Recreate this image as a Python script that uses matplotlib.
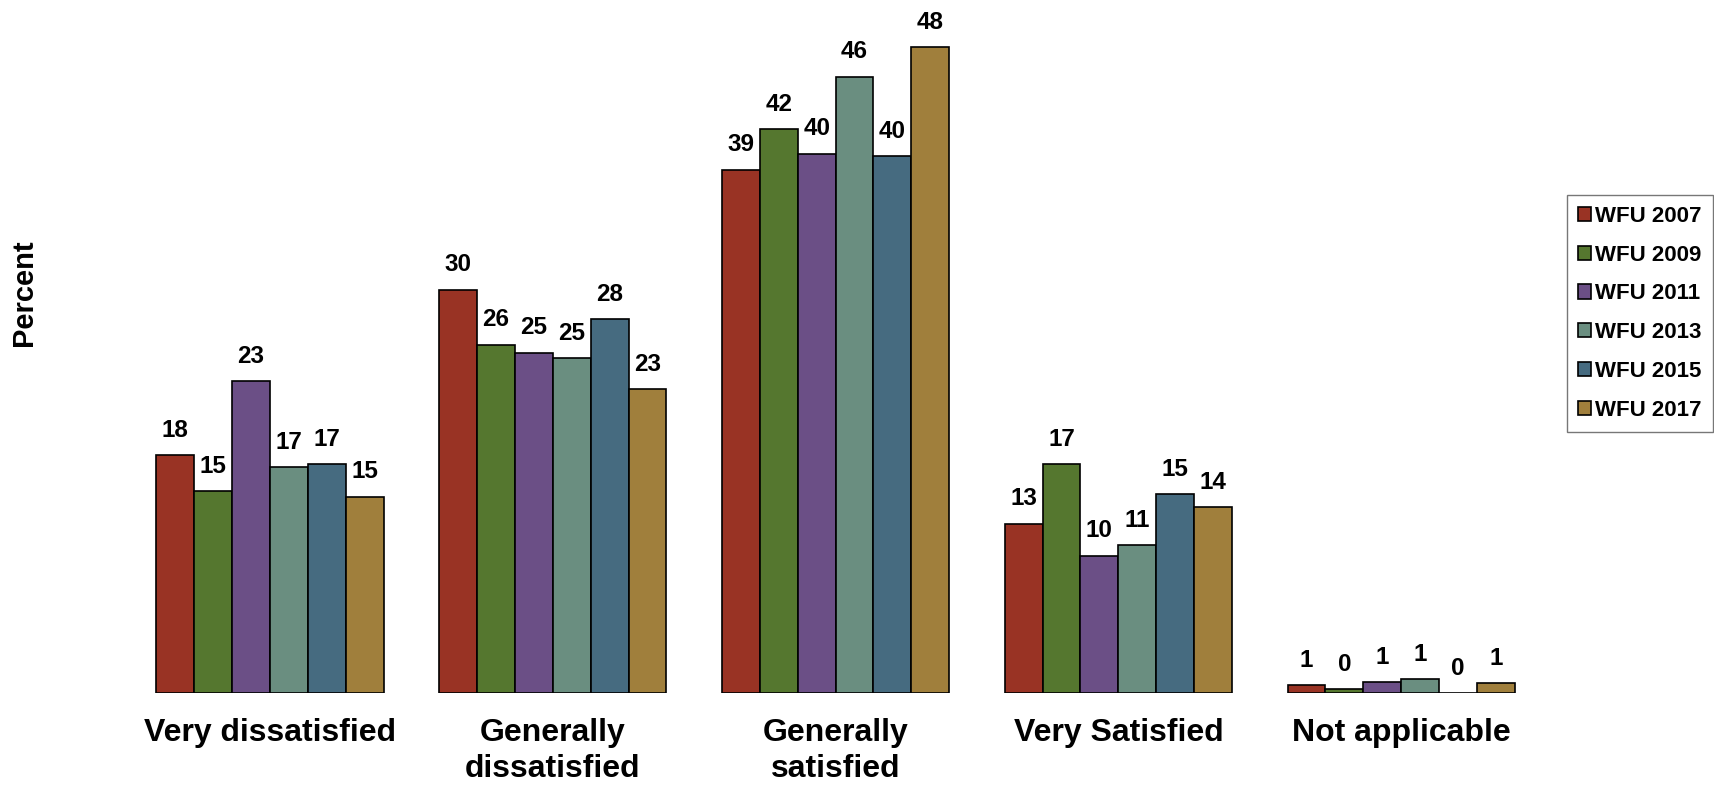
import numpy as np
import matplotlib
matplotlib.use('Agg')
import matplotlib.pyplot as plt

plt.rcParams['font.family'] = ['Liberation Sans', 'DejaVu Sans']

categories = ['Very dissatisfied', 'Generally\ndissatisfied', 'Generally\nsatisfied',
              'Very Satisfied', 'Not applicable']
series = ['WFU 2007', 'WFU 2009', 'WFU 2011', 'WFU 2013', 'WFU 2015', 'WFU 2017']
wfu2007 = [17.7, 30.0, 38.9, 12.6, 0.6]
wfu2009 = [15.0, 25.9, 41.9, 17.0, 0.3]
wfu2011 = [23.2, 25.3, 40.1, 10.2, 0.8]
wfu2013 = [16.8, 24.9, 45.8, 11.0, 1.05]
wfu2015 = [17.0, 27.8, 39.9, 14.8, 0.0]
wfu2017 = [14.6, 22.6, 48.0, 13.8, 0.75]
values = [wfu2007, wfu2009, wfu2011, wfu2013, wfu2015, wfu2017]
colors = ['#993324', '#55772F', '#6B4F86', '#6A8E80', '#466B80', '#A07F3C']

fig = plt.figure(figsize=(17.14, 7.85), dpi=100)
ax = fig.add_axes([0.075, 0.117, 0.825, 0.857])

width = 0.134
x = np.arange(len(categories))
for i, (name, vals, c) in enumerate(zip(series, values, colors)):
    pos = x + (i - 2.5) * width
    ax.bar(pos, vals, width=width, color=c, edgecolor='black', linewidth=1.2, label=name)
    for p, v in zip(pos, vals):
        ax.text(p, v + 1.0, '%d' % round(v), ha='center', va='bottom',
                fontsize=17.5, fontweight='bold')

ax.set_xlim(-0.5, 4.5)
ax.set_ylim(0, 50)
for s in ax.spines.values():
    s.set_visible(False)
ax.set_yticks([])
ax.set_xticks(x)
ax.set_xticklabels(categories, fontsize=23, fontweight='bold', linespacing=1.24)
ax.tick_params(axis='x', length=0, pad=18)

fig.text(0.014, 0.627, 'Percent', rotation=90, ha='center', va='center',
         fontsize=21, fontweight='bold')

leg = fig.legend(loc='upper left', bbox_to_anchor=(0.914, 0.752), frameon=True, fancybox=False,
                 prop={'size': 16, 'weight': 'bold'}, handlelength=0.6, handleheight=0.6,
                 handletextpad=0.2, labelspacing=0.8, borderpad=0.5, borderaxespad=0,
                 edgecolor='#555555')
leg.get_frame().set_linewidth(1.0)

fig.savefig('out.png', dpi=100)
